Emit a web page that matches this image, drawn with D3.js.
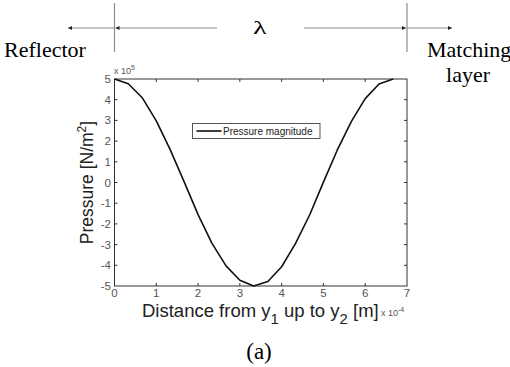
<!DOCTYPE html>
<html>
<head>
<meta charset="utf-8">
<script src="https://cdn.jsdelivr.net/npm/d3@7"></script>
<style>
  body { margin: 0; background: #fff; }
  svg { display: block; }
</style>
</head>
<body>
<svg id="chart" width="510" height="367"></svg>
<script>
// distance samples (x 10^-4 m) and pressure (x 10^5 N/m^2)
const xVals = [0, 0.33, 0.67, 1.0, 1.33, 1.67, 2.0, 2.33, 2.67, 3.0, 3.33,
               3.67, 4.0, 4.33, 4.67, 5.0, 5.33, 5.67, 6.0, 6.33, 6.67];
const pVals = [5, 4.77, 4.08, 2.98, 1.6, 0.02, -1.55, -2.93, -4.03, -4.72, -5,
               -4.78, -4.07, -2.95, -1.57, 0.02, 1.56, 2.95, 4.05, 4.76, 5];
const xTicks = [0, 1, 2, 3, 4, 5, 6, 7];
const yTicks = [-5, -4, -3, -2, -1, 0, 1, 2, 3, 4, 5];

const svg = d3.select("#chart");
const x = d3.scaleLinear().domain([0, 7]).range([114.5, 407]);
const y = d3.scaleLinear().domain([-5, 5]).range([286, 79]);

const serif = "'Liberation Serif', 'Times New Roman', serif";
const sans = "Arial, 'Liberation Sans', sans-serif";

// arrow markers
const defs = svg.append("defs");
defs.append("marker")
    .attr("id", "ah")
    .attr("viewBox", "0 0 10 10")
    .attr("refX", 10).attr("refY", 5)
    .attr("markerWidth", 5).attr("markerHeight", 4)
    .attr("markerUnits", "userSpaceOnUse")
    .attr("orient", "auto")
    .append("path").attr("d", "M0,0L10,5L0,10Z").attr("fill", "#222");

const topG = svg.append("g").attr("stroke", "#8a8a8a").attr("stroke-width", 1.2);
const xl = x(0), xr = x(7), ya = 28;
topG.append("line").attr("x1", xl).attr("x2", xl).attr("y1", 3).attr("y2", 52);
topG.append("line").attr("x1", xr).attr("x2", xr).attr("y1", 3).attr("y2", 52);
topG.append("line").attr("x1", xl).attr("x2", 68).attr("y1", ya).attr("y2", ya).attr("marker-end", "url(#ah)");
topG.append("line").attr("x1", 217).attr("x2", xl + 1).attr("y1", ya).attr("y2", ya).attr("marker-end", "url(#ah)");
topG.append("line").attr("x1", 304).attr("x2", xr - 1).attr("y1", ya).attr("y2", ya).attr("marker-end", "url(#ah)");
topG.append("line").attr("x1", xr).attr("x2", 452).attr("y1", ya).attr("y2", ya).attr("marker-end", "url(#ah)");

svg.append("text").attr("transform", "translate(260,33.5) scale(1.5,1)")
    .attr("text-anchor", "middle")
    .attr("font-family", serif).attr("font-size", 19).text("λ");
svg.append("text").attr("x", 4).attr("y", 56.5)
    .attr("font-family", serif).attr("font-size", 22).text("Reflector");
svg.append("text").attr("x", 427).attr("y", 56.5)
    .attr("font-family", serif).attr("font-size", 22).text("Matching");
svg.append("text").attr("x", 468).attr("y", 81.5).attr("text-anchor", "middle")
    .attr("font-family", serif).attr("font-size", 22).text("layer");

// plot box
svg.append("rect").attr("x", x(0)).attr("y", y(5))
    .attr("width", x(7) - x(0)).attr("height", y(-5) - y(5))
    .attr("fill", "none").attr("stroke", "#333").attr("stroke-width", 1);

const tickLen = 3;
const ticks = svg.append("g").attr("stroke", "#333").attr("stroke-width", 1);
xTicks.slice(1, -1).forEach(t => {
    ticks.append("line").attr("x1", x(t)).attr("x2", x(t)).attr("y1", y(-5)).attr("y2", y(-5) - tickLen);
    ticks.append("line").attr("x1", x(t)).attr("x2", x(t)).attr("y1", y(5)).attr("y2", y(5) + tickLen);
});
yTicks.slice(1, -1).forEach(t => {
    ticks.append("line").attr("x1", x(0)).attr("x2", x(0) + tickLen).attr("y1", y(t)).attr("y2", y(t));
    ticks.append("line").attr("x1", x(7)).attr("x2", x(7) - tickLen).attr("y1", y(t)).attr("y2", y(t));
});

svg.append("g").selectAll("text").data(xTicks).join("text")
    .attr("x", d => x(d)).attr("y", 297).attr("text-anchor", "middle")
    .attr("font-family", sans).attr("font-size", 11.5).attr("fill", "#555")
    .text(d => d);
svg.append("g").selectAll("text").data(yTicks).join("text")
    .attr("x", 111).attr("y", d => y(d) + 4).attr("text-anchor", "end")
    .attr("font-family", sans).attr("font-size", 11.5).attr("fill", "#555")
    .text(d => d);

// exponent labels
const e5 = svg.append("text").attr("x", 114).attr("y", 74)
    .attr("font-family", sans).attr("font-size", 9).attr("fill", "#555");
e5.append("tspan").text("x 10");
e5.append("tspan").attr("dy", -4).attr("font-size", 7).text("5");

const e4 = svg.append("text").attr("x", 381).attr("y", 316)
    .attr("font-family", sans).attr("font-size", 9).attr("fill", "#555");
e4.append("tspan").text("x 10");
e4.append("tspan").attr("dy", -4).attr("font-size", 7).text("-4");

// curve
svg.append("path")
    .datum(xVals.map((d, i) => [d, pVals[i]]))
    .attr("fill", "none").attr("stroke", "#111").attr("stroke-width", 1.6)
    .attr("stroke-linejoin", "round")
    .attr("d", d3.line().x(d => x(d[0])).y(d => y(d[1])));

// legend
svg.append("rect").attr("x", 192.5).attr("y", 123.5).attr("width", 127.5).attr("height", 15)
    .attr("fill", "#fff").attr("stroke", "#555").attr("stroke-width", 1);
svg.append("line").attr("x1", 196.5).attr("x2", 221.5).attr("y1", 131).attr("y2", 131)
    .attr("stroke", "#111").attr("stroke-width", 1.6);
svg.append("text").attr("x", 223).attr("y", 134.5)
    .attr("font-family", sans).attr("font-size", 10).attr("fill", "#222")
    .text("Pressure magnitude");

// axis titles
const yl = svg.append("text")
    .attr("transform", `translate(93,${y(0)}) rotate(-90)`)
    .attr("text-anchor", "middle")
    .attr("font-family", sans).attr("font-size", 17.5).attr("fill", "#222");
yl.append("tspan").text("Pressure [N/m");
yl.append("tspan").attr("dy", -7).attr("font-size", 12).text("2");
yl.append("tspan").attr("dy", 7).text("]");

const xlab = svg.append("text").attr("x", 142).attr("y", 317)
    .attr("font-family", sans).attr("font-size", 18.5).attr("fill", "#222");
xlab.append("tspan").text("Distance from y");
xlab.append("tspan").attr("dy", 7).attr("font-size", 15).text("1");
xlab.append("tspan").attr("dy", -7).text(" up to y");
xlab.append("tspan").attr("dy", 7).attr("font-size", 15).text("2");
xlab.append("tspan").attr("dy", -7).text(" [m]");

svg.append("text").attr("x", 259).attr("y", 358.5).attr("text-anchor", "middle")
    .attr("font-family", serif).attr("font-size", 23).text("(a)");
</script>
</body>
</html>
